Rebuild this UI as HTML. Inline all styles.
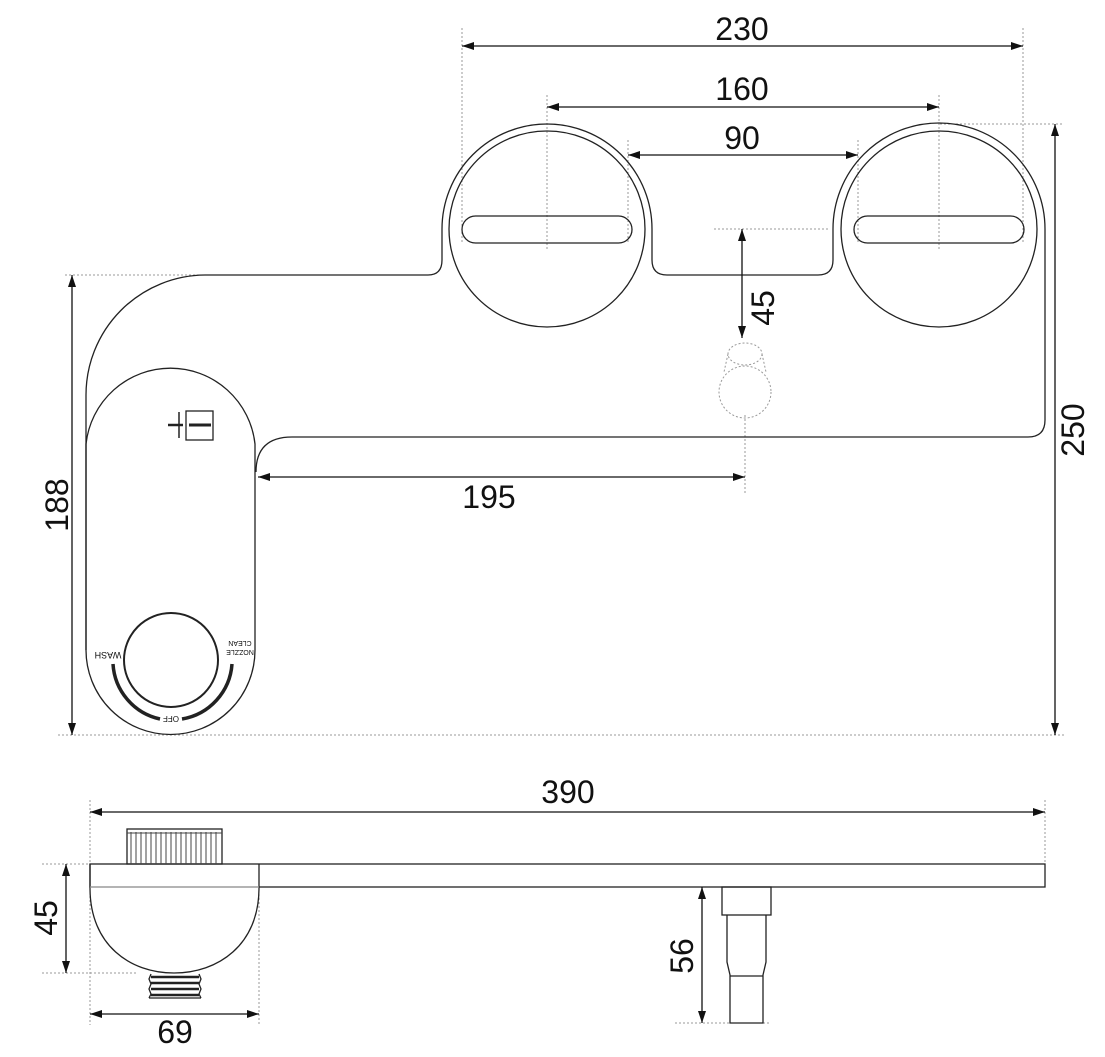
<!DOCTYPE html>
<html><head><style>body{margin:0;background:#fff}svg{display:block}text{font-family:"Liberation Sans",sans-serif;fill:#111}</style></head>
<body>
<svg width="1105" height="1057" viewBox="0 0 1105 1057" xmlns="http://www.w3.org/2000/svg">
<defs>
<marker id="a" viewBox="0 0 12 8" refX="12" refY="4" markerWidth="12" markerHeight="8" orient="auto-start-reverse" markerUnits="userSpaceOnUse"><path d="M0 0L12 4L0 8z" fill="#111"/></marker>
</defs>
<g fill="none" stroke="#999" stroke-width="1" stroke-dasharray="2 2">
<line x1="462" y1="28" x2="462" y2="242"/><line x1="1023" y1="28" x2="1023" y2="242"/>
<line x1="547" y1="95" x2="547" y2="250"/><line x1="939" y1="95" x2="939" y2="250"/>
<line x1="628" y1="140" x2="628" y2="242"/><line x1="858" y1="140" x2="858" y2="242"/>
<line x1="714" y1="229" x2="830" y2="229"/>
<line x1="745" y1="415" x2="745" y2="494"/>
<line x1="65" y1="275" x2="205" y2="275"/><line x1="58" y1="735" x2="1065" y2="735"/>
<line x1="940" y1="124" x2="1062" y2="124"/>
<line x1="90" y1="800" x2="90" y2="1025"/><line x1="1045" y1="800" x2="1045" y2="870"/>
<line x1="259" y1="890" x2="259" y2="1025"/>
<line x1="42" y1="864" x2="90" y2="864"/><line x1="42" y1="973" x2="137" y2="973"/>
<line x1="675" y1="1023" x2="770" y2="1023"/>
<ellipse cx="745" cy="354" rx="17" ry="11"/>
<line x1="728" y1="354" x2="724" y2="372"/><line x1="762" y1="354" x2="766" y2="372"/>
<circle cx="745" cy="392" r="26"/>
</g>
<g fill="none" stroke="#222" stroke-width="1.3">
<path d="M205 275 L428 275 Q442 275 442 260 L442 229 A105 105 0 0 1 652 229 L652 260 Q652 275 667 275 L818 275 Q833 275 833 260 L833 229 A106 106 0 0 1 1045 229 L1045 420 Q1045 437 1028 437 L292 437 Q256 437 256 472"/>
<path d="M205 275 A120 120 0 0 0 86 395 L86 650"/>
<path d="M86 650 L86 444 A85 85 0 0 1 255 444 L255 650 A84.5 84.5 0 0 1 86 650"/>
<circle cx="547" cy="229" r="98"/>
<circle cx="939" cy="229" r="98"/>
<rect x="462" y="216" width="170" height="27" rx="13.5"/>
<rect x="854" y="216" width="170" height="27" rx="13.5"/>
<circle cx="171" cy="660" r="47" stroke-width="2"/>
<rect x="186" y="411" width="27" height="29"/>
<rect x="90" y="864" width="955" height="23"/>
<path d="M90 864 L90 888 C90 945 130 973 174 973 C218 973 259 945 259 888 L259 864"/>
<rect x="127" y="829" width="95" height="35"/>
<rect x="722" y="887" width="49" height="28"/>
<path d="M727 915 L727 962 L730 975 L730 1023 L763 1023 L763 975 L766 962 L766 915"/>
<line x1="730" y1="976" x2="763" y2="976"/>
<path d="M151 974 L149 979 L151 984 L149 989 L151 994 L149 998 M199 974 L201 979 L199 984 L201 989 L199 994 L201 998 M149 998 L201 998"/>
</g>
<line x1="90" y1="887" x2="259" y2="887" stroke="#aaa" stroke-width="1"/>
<g stroke="#444" stroke-width="1">
<line x1="131" y1="832" x2="131" y2="864"/><line x1="136" y1="832" x2="136" y2="864"/><line x1="141" y1="832" x2="141" y2="864"/><line x1="146" y1="832" x2="146" y2="864"/><line x1="151" y1="832" x2="151" y2="864"/><line x1="156" y1="832" x2="156" y2="864"/><line x1="161" y1="832" x2="161" y2="864"/><line x1="166" y1="832" x2="166" y2="864"/><line x1="171" y1="832" x2="171" y2="864"/><line x1="176" y1="832" x2="176" y2="864"/><line x1="181" y1="832" x2="181" y2="864"/><line x1="186" y1="832" x2="186" y2="864"/><line x1="191" y1="832" x2="191" y2="864"/><line x1="196" y1="832" x2="196" y2="864"/><line x1="201" y1="832" x2="201" y2="864"/><line x1="206" y1="832" x2="206" y2="864"/><line x1="211" y1="832" x2="211" y2="864"/><line x1="216" y1="832" x2="216" y2="864"/>
<line x1="127" y1="833" x2="222" y2="833"/>
</g>
<g stroke="#222" stroke-width="2.5" fill="none">
<path d="M151 977 L199 977 M151 983 L199 983 M151 989 L199 989 M151 995 L199 995"/>
<line x1="168" y1="425" x2="183" y2="425"/><line x1="189" y1="425" x2="211" y2="425" stroke-width="3"/>
<path d="M113 664 A60 60 0 0 0 160 719" stroke-width="3.5"/>
<path d="M182 719 A60 60 0 0 0 232 664" stroke-width="3.5"/>
</g>
<line x1="179" y1="412" x2="179" y2="438" stroke="#222" stroke-width="1.5"/>
<text x="108" y="652" font-size="9" transform="rotate(180 108 652)" text-anchor="middle">WASH</text>
<text x="240" y="650" font-size="7" transform="rotate(180 240 650)" text-anchor="middle">NOZZLE</text>
<text x="240" y="641" font-size="7" transform="rotate(180 240 641)" text-anchor="middle">CLEAN</text>
<text x="171" y="716" font-size="8" transform="rotate(180 171 716)" text-anchor="middle">OFF</text>
<g stroke="#111" stroke-width="1.3" marker-start="url(#a)" marker-end="url(#a)">
<line x1="462" y1="46" x2="1023" y2="46"/>
<line x1="547" y1="107" x2="939" y2="107"/>
<line x1="628" y1="155" x2="858" y2="155"/>
<line x1="742" y1="229" x2="742" y2="338"/>
<line x1="258" y1="477" x2="745" y2="477"/>
<line x1="72" y1="275" x2="72" y2="735"/>
<line x1="1055" y1="124" x2="1055" y2="735"/>
<line x1="90" y1="812" x2="1045" y2="812"/>
<line x1="66" y1="864" x2="66" y2="973"/>
<line x1="90" y1="1014" x2="259" y2="1014"/>
<line x1="702" y1="887" x2="702" y2="1023"/>
</g>
<g font-size="32" text-anchor="middle">
<text x="742" y="40">230</text>
<text x="742" y="100">160</text>
<text x="742" y="149">90</text>
<text x="489" y="508">195</text>
<text x="568" y="803">390</text>
<text x="175" y="1043">69</text>
<text transform="translate(774 308) rotate(-90)">45</text>
<text transform="translate(68 505) rotate(-90)">188</text>
<text transform="translate(1084 430) rotate(-90)">250</text>
<text transform="translate(57 918) rotate(-90)">45</text>
<text transform="translate(693 956) rotate(-90)">56</text>
</g>
</svg>
</body></html>
